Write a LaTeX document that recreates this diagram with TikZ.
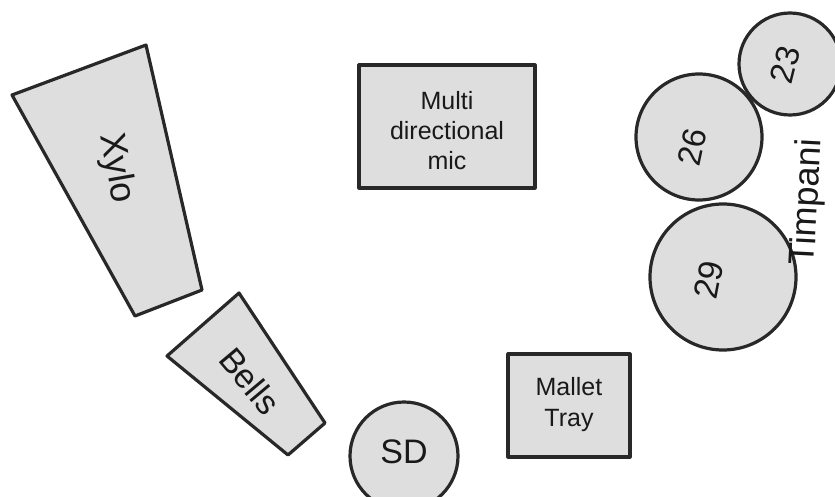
\documentclass[tikz,border=0pt]{standalone}
\usepackage{fontspec}
\setmainfont{Liberation Sans}
\definecolor{fillg}{RGB}{222,222,222}
\definecolor{lineg}{RGB}{40,40,40}
\begin{document}
\begin{tikzpicture}[x=1pt,y=-1pt,
  shapeline/.style={draw=lineg,line width=3.2pt,fill=fillg,line join=round},
  lbl/.style={inner sep=0pt,text=black!90},
  boxnode/.style={shapeline,rectangle,inner sep=0pt},
  drum/.style={shapeline,circle,inner sep=0pt}]
\useasboundingbox (0,0) rectangle (835,497);
\begin{scope}
\clip (0,0) rectangle (835,497);
% Xylo
\draw[shapeline] (12,95) -- (146,45) -- (202,290) -- (135,316) -- cycle;
\node[lbl,rotate=-80,font=\fontsize{36}{40}\selectfont] (xylo) at (116,168) {Xylo};
% Bells
\draw[shapeline] (239,293) -- (325,423) -- (288,455) -- (167,356) -- cycle;
\node[lbl,rotate=-50,font=\fontsize{34}{38}\selectfont] (bells) at (250,381) {Bells};
% Multi directional mic
\node[boxnode,minimum width=176pt,minimum height=123pt] (mic) at (447,126.5) {};
\node[lbl,align=center,font=\fontsize{25}{30}\selectfont] (micl) at (447,131) {Multi\\directional\\mic};
% Mallet Tray
\node[boxnode,minimum width=122pt,minimum height=103pt] (tray) at (569,405.5) {};
\node[lbl,align=center,font=\fontsize{25}{31}\selectfont] (trayl) at (569,405) {Mallet\\Tray};
% SD
\node[drum,minimum size=108pt] (sd) at (404,456) {};
\node[lbl,font=\fontsize{34}{40}\selectfont] (sdl) at (404,452) {SD};
% Timpani
\node[drum,minimum size=102pt] (t23) at (790,64) {};
\node[lbl,rotate=76,font=\fontsize{33}{38}\selectfont] (t23l) at (785,65) {23};
\node[drum,minimum size=126pt] (t26) at (699,137) {};
\node[lbl,rotate=78,font=\fontsize{33}{38}\selectfont] (t26l) at (692,147) {26};
\node[drum,minimum size=146pt] (t29) at (723,277) {};
\node[lbl,rotate=79,font=\fontsize{34}{40}\selectfont] (t29l) at (709,280) {29};
\node[lbl,rotate=87,font=\fontsize{36}{42}\selectfont] (timp) at (808,202) {Timpani};
\end{scope}
\end{tikzpicture}
\end{document}
